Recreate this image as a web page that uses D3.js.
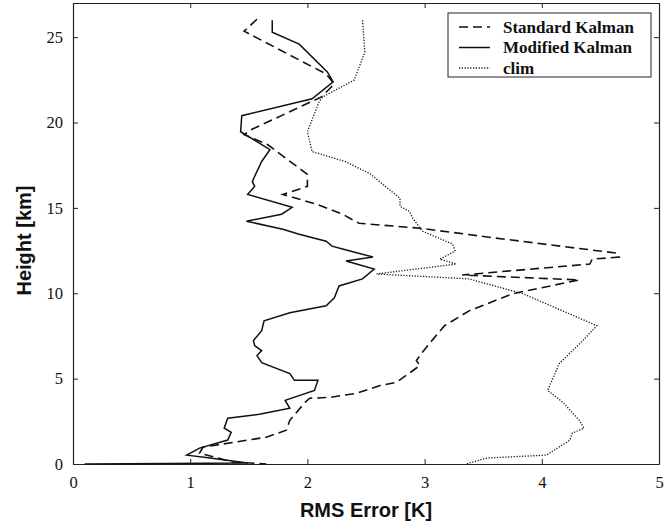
<!DOCTYPE html>
<html>
<head>
<meta charset="utf-8">
<script src="https://cdn.jsdelivr.net/npm/d3@7"></script>
<style>
  body { margin: 0; background: #fff; }
  .tick text { font-family: "Liberation Serif", "Times New Roman", serif; font-size: 16.5px; fill: #111; }
  .axis-label { font-family: "Liberation Sans", Arial, sans-serif; font-weight: bold; font-size: 20px; fill: #111; }
  .legend text { font-family: "Liberation Serif", "Times New Roman", serif; font-weight: bold; font-size: 17px; fill: #111; }
</style>
</head>
<body>
<div id="chart"></div>
<script>
// Series: RMS error [K] against height [km]
var stdHeight = [26.05, 25.35, 22.84, 22.26, 21.5, 19.58, 19.29, 18.71, 16.96, 16.26, 15.79, 15.21, 14.63, 14.1,
    13.81, 13.23, 12.35, 12.12, 12.0, 11.71, 11.07, 10.78, 9.97, 8.97, 8.1, 7.05, 6.53, 6.06, 5.77, 4.78, 4.6,
    4.14, 3.9, 3.85, 3.61, 2.56, 1.98, 1.57, 0.99, 0.64, 0.12, 0];
var stdRms = [1.57, 1.46, 2.16, 2.23, 2.12, 1.52, 1.46, 1.66, 2.0, 2.0, 1.79, 2.08, 2.3, 2.44,
    2.96, 3.61, 4.64, 4.66, 4.43, 4.41, 3.32, 4.32, 3.75, 3.38, 3.17, 3.04, 2.98, 2.93, 2.96, 2.76, 2.62,
    2.42, 2.19, 2.02, 1.98, 1.85, 1.82, 1.65, 1.11, 1.08, 1.36, 1.65];

var modHeight = [25.99, 25.29, 24.59, 22.96, 22.38, 21.39, 20.4, 19.46, 18.41, 17.72, 16.55, 16.26, 15.79, 15.03,
    14.63, 14.22, 13.75, 13.46, 13.05, 12.76, 12.59, 12.12, 11.89, 11.42, 10.84, 10.43, 9.73, 9.27, 8.86, 8.39,
    7.81, 7.23, 6.93, 6.64, 6.35, 5.94, 5.3, 4.9, 4.9, 4.31, 3.73, 3.26, 2.91, 2.68, 2.1, 1.86, 1.4, 0.93,
    0.52, 0.35, 0.06, 0];
var modRms = [1.70, 1.70, 1.93, 2.17, 2.22, 2.04, 1.44, 1.43, 1.68, 1.61, 1.53, 1.55, 1.49, 1.87,
    1.78, 1.48, 1.79, 1.93, 2.16, 2.21, 2.3, 2.56, 2.33, 2.57, 2.47, 2.27, 2.23, 2.16, 1.85, 1.63,
    1.61, 1.54, 1.55, 1.61, 1.57, 1.61, 1.85, 1.89, 2.09, 2.06, 1.81, 1.85, 1.59, 1.32, 1.29, 1.35, 1.32, 1.08,
    0.97, 1.17, 1.49, 0.1];

var climHeight = [25.99, 24.13, 22.49, 21.79, 21.5, 21.21, 19.46, 18.3, 17.72, 17.02, 15.56, 15.09, 14.8, 14.39,
    13.64, 12.88, 12.47, 12.0, 11.71, 11.13, 10.84, 9.97, 8.1, 7.23, 5.89, 4.31, 3.61, 2.56, 2.1, 1.81, 1.4,
    0.52, 0.35, 0.06, 0];
var climRms = [2.47, 2.49, 2.4, 2.21, 2.13, 2.1, 2.0, 2.04, 2.32, 2.53, 2.79, 2.79, 2.87, 2.9,
    2.98, 3.24, 3.26, 3.13, 3.27, 2.59, 3.38, 3.84, 4.47, 4.35, 4.15, 4.05, 4.18, 4.32, 4.36, 4.26, 4.24,
    4.04, 3.53, 3.38, 3.36];

var xTicks = [0, 1, 2, 3, 4, 5];
var yTicks = [0, 5, 10, 15, 20, 25];
var legendNames = ["Standard Kalman", "Modified Kalman", "clim"];

var margin = { top: 3, right: 11, bottom: 58, left: 73 };
var width = 670 - margin.left - margin.right,
    height = 522 - margin.top - margin.bottom;

var svg = d3.select("#chart").append("svg")
    .attr("width", 670)
    .attr("height", 522)
    .append("g")
    .attr("transform", "translate(" + margin.left + "," + margin.top + ")");

var x = d3.scaleLinear().domain([0, 5]).range([0, width]);
var y = d3.scaleLinear().domain([0, 27]).range([height, 0]);

// axes, MATLAB style: ticks pointing inward on all four sides
svg.append("g")
    .attr("transform", "translate(0," + height + ")")
    .call(d3.axisBottom(x).tickValues(xTicks).tickFormat(d3.format("d"))
        .tickSizeInner(-5).tickSizeOuter(0).tickPadding(12));
svg.append("g")
    .call(d3.axisTop(x).tickValues(xTicks).tickSizeInner(-5).tickSizeOuter(0).tickFormat(""));
svg.append("g")
    .call(d3.axisLeft(y).tickValues(yTicks).tickFormat(d3.format("d"))
        .tickSizeInner(-5).tickSizeOuter(0).tickPadding(10));
svg.append("g")
    .attr("transform", "translate(" + width + ",0)")
    .call(d3.axisRight(y).tickValues(yTicks).tickSizeInner(-5).tickSizeOuter(0).tickFormat(""));

svg.selectAll(".domain").attr("stroke", "#222").attr("stroke-width", 1.2);
svg.selectAll(".tick line").attr("stroke", "#222");

var line = d3.line()
    .x(function(d) { return x(d[0]); })
    .y(function(d) { return y(d[1]); });

function pairs(rms, h) {
    return rms.map(function(v, i) { return [v, h[i]]; });
}

var series = [
    { name: legendNames[0], data: pairs(stdRms, stdHeight), dash: "9,5", w: 1.6 },
    { name: legendNames[1], data: pairs(modRms, modHeight), dash: null, w: 1.5 },
    { name: legendNames[2], data: pairs(climRms, climHeight), dash: "1.2,1.6", w: 1.3 }
];

svg.selectAll(".series")
    .data(series)
    .enter().append("path")
    .attr("class", "series")
    .attr("fill", "none")
    .attr("stroke", "#111")
    .attr("stroke-width", function(d) { return d.w; })
    .attr("stroke-dasharray", function(d) { return d.dash; })
    .attr("d", function(d) { return line(d.data); });

// axis titles
svg.append("text")
    .attr("class", "axis-label")
    .attr("x", width / 2)
    .attr("y", height + 53)
    .attr("text-anchor", "middle")
    .text("RMS Error [K]");

svg.append("text")
    .attr("class", "axis-label")
    .attr("transform", "translate(-42," + (height / 2 + 7) + ") rotate(-90)")
    .attr("text-anchor", "middle")
    .text("Height [km]");

// legend
var legend = svg.append("g")
    .attr("class", "legend")
    .attr("transform", "translate(" + (448 - margin.left) + "," + (13 - margin.top) + ")");

legend.append("rect")
    .attr("width", 203)
    .attr("height", 64)
    .attr("fill", "#fff")
    .attr("stroke", "#222")
    .attr("stroke-width", 1);

var items = legend.selectAll(".item")
    .data(series)
    .enter().append("g")
    .attr("transform", function(d, i) { return "translate(0," + (14 + i * 20.5) + ")"; });

items.append("line")
    .attr("x1", 11).attr("x2", 42)
    .attr("stroke", "#111")
    .attr("stroke-width", function(d) { return d.w; })
    .attr("stroke-dasharray", function(d) { return d.dash; });

items.append("text")
    .attr("x", 55)
    .attr("y", 5.5)
    .text(function(d) { return d.name; });
</script>
</body>
</html>
